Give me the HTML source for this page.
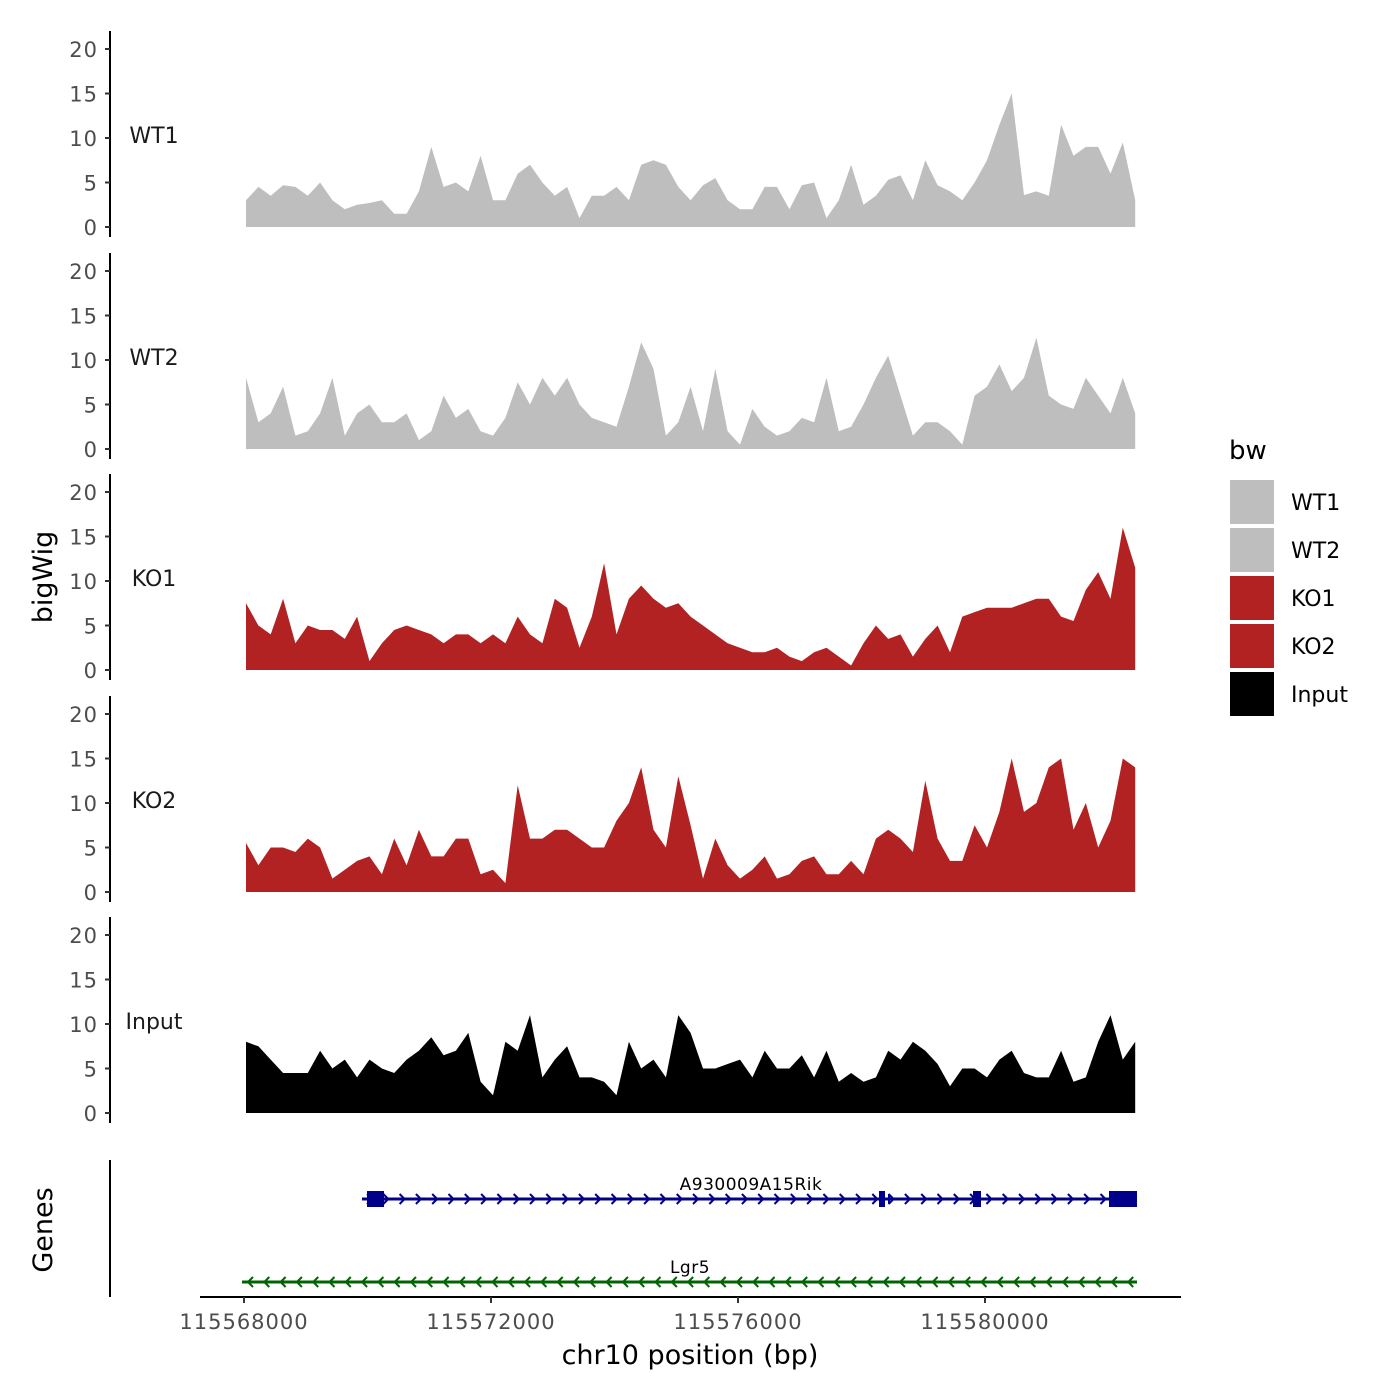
<!DOCTYPE html>
<html><head><meta charset="utf-8"><style>
html,body{margin:0;padding:0;background:#fff;}
svg{display:block;font-family:"DejaVu Sans","Liberation Sans",sans-serif;}
</style></head><body>
<svg id="chart" width="1400" height="1400" viewBox="0 0 1400 1400" xmlns="http://www.w3.org/2000/svg">
<text x="52" y="577" font-size="27" text-anchor="middle" transform="rotate(-90 52 577)" fill="#000">bigWig</text>
<text x="52" y="1230" font-size="27" text-anchor="middle" transform="rotate(-90 52 1230)" fill="#000">Genes</text>
<text x="690" y="1364" font-size="27" text-anchor="middle" fill="#000">chr10 position (bp)</text>
<line x1="110" y1="1160" x2="110" y2="1297" stroke="#000" stroke-width="2"/>
<line x1="200" y1="1297" x2="1181" y2="1297" stroke="#000" stroke-width="2"/>
<g id="tracks"></g>
<g id="genes"></g>
<g id="xaxis"></g>
<g id="legend">
<text x="1229" y="459" font-size="26" fill="#000">bw</text>
</g>
</svg>
<script>
const positions=[0,200,400,600,800,1000,1200,1400,1600,1800,2000,2200,2400,2600,2800,3000,3200,3400,3600,3800,4000,4200,4400,4600,4800,5000,5200,5400,5600,5800,6000,6200,6400,6600,6800,7000,7200,7400,7600,7800,8000,8200,8400,8600,8800,9000,9200,9400,9600,9800,10000,10200,10400,10600,10800,11000,11200,11400,11600,11800,12000,12200,12400,12600,12800,13000,13200,13400,13600,13800,14000,14200,14400];
const wt1=[3,4.5,3.5,4.7,4.5,3.5,5,3,2,2.5,2.7,3,1.5,1.5,4,9,4.5,5,4,8,3,3,6,7,5,3.5,4.5,1,3.5,3.5,4.5,3,7,7.5,7,4.5,3,4.7,5.5,3,2,2,4.5,4.5,2,4.7,5,1,3,7,2.5,3.5,5.3,5.8,3,7.5,4.7,4,3,5,7.5,11.5,15,3.6,4,3.5,11.5,8,9,9,6,9.5,3];
const wt2=[8,3,4,7,1.5,2,4,8,1.5,4,5,3,3,4,1,2,6,3.5,4.5,2,1.5,3.5,7.5,5,8,6,8,5,3.5,3,2.5,7,12,9,1.5,3,7,2,9,2,0.5,4.5,2.5,1.5,2,3.5,3,8,2,2.5,5,8,10.5,6,1.5,3,3,2,0.5,6,7,9.5,6.5,8,12.5,6,5,4.5,8,6,4,8,4];
const ko1=[7.5,5,4,8,3,5,4.5,4.5,3.5,6,1,3,4.5,5,4.5,4,3,4,4,3,4,3,6,4,3,8,7,2.5,6,12,4,8,9.5,8,7,7.5,6,5,4,3,2.5,2,2,2.5,1.5,1,2,2.5,1.5,0.5,3,5,3.5,4,1.5,3.5,5,2,6,6.5,7,7,7,7.5,8,8,6,5.5,9,11,8,16,11.5];
const ko2=[5.5,3,5,5,4.5,6,5,1.5,2.5,3.5,4,2,6,3,7,4,4,6,6,2,2.5,1,12,6,6,7,7,6,5,5,8,10,14,7,5,13,7.5,1.5,6,3,1.5,2.5,4,1.5,2,3.5,4,2,2,3.5,2,6,7,6,4.5,12.5,6,3.5,3.5,7.5,5,9,15,9,10,14,15,7,10,5,8,15,14];
const inputSeries=[8,7.5,6,4.5,4.5,4.5,7,5,6,4,6,5,4.5,6,7,8.5,6.5,7,9,3.5,2,8,7,11,4,6,7.5,4,4,3.5,2,8,5,6,4,11,9,5,5,5.5,6,4,7,5,5,6.5,4,7,3.5,4.5,3.5,4,7,6,8,7,5.5,3,5,5,4,6,7,4.5,4,4,7,3.5,4,8,11,6,8];
const trackNames=["WT1","WT2","KO1","KO2","Input"];
const trackColors=["#bebebe","#bebebe","#b22222","#b22222","#000000"];
const yTicks=[0,5,10,15,20];
const xTicks=[115568000,115572000,115576000,115580000];
const START=115568000;
const NS="http://www.w3.org/2000/svg";
function mk(tag,attrs,parent){const e=document.createElementNS(NS,tag);for(const k in attrs)e.setAttribute(k,attrs[k]);parent.appendChild(e);return e;}
const xScale=bp=>246+(bp)*741/12000;
const zeros=[227,449,670,892,1113];
const yScale=(i,v)=>zeros[i]-v*178/20;
const series=[wt1,wt2,ko1,ko2,inputSeries];
const tracks=document.getElementById('tracks');
series.forEach((s,i)=>{
  const g=mk('g',{},tracks);
  
  
  const ax=mk('line',{x1:110,y1:zeros[i]-196,x2:110,y2:zeros[i]+10,stroke:'#000','stroke-width':2},g);
  
  
  yTicks.forEach(t=>{
    const y=yScale(i,t);
    const tl=mk('line',{x1:105,y1:y,x2:110,y2:y,stroke:'#333','stroke-width':2},g);
    
    
    const tx=mk('text',{x:98,y:y+8,'font-size':21,'letter-spacing':1,'text-anchor':'end',fill:'#4d4d4d'},g);
    tx.textContent=t;
    
    
  });
  const lab=mk('text',{x:154,y:yScale(i,10)+5,'font-size':22,'text-anchor':'middle',fill:'#1a1a1a'},g);
  lab.textContent=trackNames[i];
  
  
  let d='M'+xScale(positions[0])+','+zeros[i];
  s.forEach((v,j)=>{d+=' L'+xScale(positions[j]).toFixed(1)+','+yScale(i,v).toFixed(1);});
  d+=' L'+xScale(positions[positions.length-1])+','+zeros[i]+' Z';
  const p=mk('path',{d:d,fill:trackColors[i]},g);
  
  
});
const genes=document.getElementById('genes');
function gene(name,y,x1,x2,color,dir,exons,labelX){
  const g=mk('g',{},genes);
  
  
  mk('line',{x1:x1,y1:y,x2:x2,y2:y,stroke:color,'stroke-width':3},g);
  for(let x=x1+8;x<x2-4;x+=16.3){
    const pts=dir>0?`${x-3},${y-5} ${x+2},${y} ${x-3},${y+5}`:`${x+3},${y-5} ${x-2},${y} ${x+3},${y+5}`;
    mk('polyline',{points:pts,fill:'none',stroke:color,'stroke-width':2},g);
  }
  exons.forEach(e=>{mk('rect',{x:e[0],y:y-e[2]/2,width:e[1]-e[0],height:e[2],fill:color},g);});
  const t=mk('text',{x:labelX,y:y-9,'font-size':17,'letter-spacing':0.5,'text-anchor':'middle',fill:'#000'},g);
  t.textContent=name;
}
gene('A930009A15Rik',1199,362,1137,'#00008b',1,[[367,384,16],[879,885,16],[888,890,10],[973,981,16],[1109,1137,16]],751);
gene('Lgr5',1282,242,1137,'#006400',-1,[],690);
const xa=document.getElementById('xaxis');
xTicks.forEach(t=>{
  const x=xScale(t-START)-2;
  const l=mk('line',{x1:x,y1:1297,x2:x,y2:1303,stroke:'#333','stroke-width':2},xa);
  
  
  const tx=mk('text',{x:x,y:1329,'font-size':21,'letter-spacing':1,'text-anchor':'middle',fill:'#4d4d4d'},xa);
  tx.textContent=t;
  
  
});
const lg=document.getElementById('legend');
trackNames.forEach((n,i)=>{
  const y=480+i*48;
  const r=mk('rect',{x:1230,y:y,width:44,height:44,fill:trackColors[i]},lg);
  
  
  const t=mk('text',{x:1291,y:y+30,'font-size':22,fill:'#000'},lg);
  t.textContent=n;
  
  
});
</script>
</body></html>
